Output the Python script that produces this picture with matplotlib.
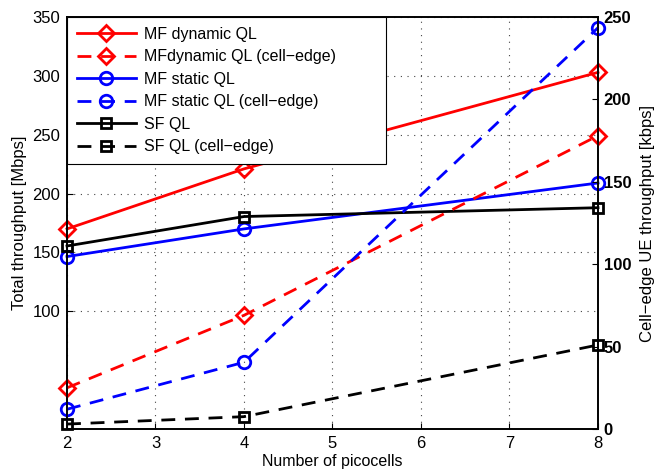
import matplotlib
matplotlib.use('Agg')
import matplotlib.pyplot as plt

plt.rcParams['font.family'] = ['Liberation Sans', 'DejaVu Sans']
plt.rcParams['font.size'] = 11.5

# data
picocells = [2, 4, 8]

# total throughput [Mbps] (left axis)
mf_dyn = [170, 221, 303]
mf_static = [146.5, 170, 209]
sf = [155.5, 180.5, 188]

# cell-edge UE throughput [kbps] (right axis)
mf_dyn_edge = [25, 69, 178]
mf_static_edge = [12, 40.5, 243.5]
sf_edge = [3, 7.5, 51]

left_ticks = [100, 150, 200, 250, 300, 350]
right_ticks = [0, 50, 100, 150, 200, 250]

fig = plt.figure(figsize=(6.64, 4.73), dpi=100)
ax = fig.add_axes([0.1009, 0.093, 0.7997, 0.871])
ax2 = ax.twinx()

lw = 2
mew = 2
style = dict(lw=lw, mfc='none', mew=mew, clip_on=False)
dash = (5, 3.5)

h1, = ax.plot(picocells, mf_dyn, '-', color='red', marker='D', ms=8,
              label='MF dynamic QL', **style)
h3, = ax.plot(picocells, mf_static, '-', color='blue', marker='o', ms=9,
              label='MF static QL', **style)
h5, = ax.plot(picocells, sf, '-', color='black', marker='s', ms=7,
              label='SF QL', **style)

h2, = ax2.plot(picocells, mf_dyn_edge, '--', color='red', marker='D', ms=8,
               label='MFdynamic QL (cell\u2212edge)', dashes=dash, **style)
h4, = ax2.plot(picocells, mf_static_edge, '--', color='blue', marker='o', ms=9,
               label='MF static QL (cell\u2212edge)', dashes=dash, **style)
h6, = ax2.plot(picocells, sf_edge, '--', color='black', marker='s', ms=7,
               label='SF QL (cell\u2212edge)', dashes=dash, **style)

ax.set_xlim(2, 8)
ax.set_ylim(0, 350)
ax2.set_ylim(0, 250)
ax.set_xticks(range(2, 9))
ax.set_yticks(left_ticks)
ax2.set_yticks(right_ticks)

ax.grid(True, linestyle=(0, (1, 5)), color='#444444', lw=0.8)
ax.tick_params(direction='in', length=4, labelsize=12, pad=5, right=False)
ax2.tick_params(direction='in', length=4, labelsize=12, pad=4)
for t in ax2.get_yticklabels():
    t.set_fontweight('bold')

for a in (ax, ax2):
    for s in a.spines.values():
        s.set_linewidth(1.2)

ax.set_xlabel('Number of picocells', fontsize=11.5, labelpad=2)
ax.set_ylabel('Total throughput [Mbps]', fontsize=12, labelpad=4)
ax2.set_ylabel('Cell\u2212edge UE throughput [kbps]', fontsize=12, labelpad=6)

# legend box spans from the axes corner to the right of the text (MATLAB style)
leg_w = 0.6008
leg_h = 0.347
leg = ax2.legend(handles=[h1, h2, h3, h4, h5, h6], loc='upper left',
                 bbox_to_anchor=(0, 1 - leg_h, leg_w, leg_h), mode='expand',
                 borderaxespad=0, fancybox=False, edgecolor='black',
                 framealpha=1, handlelength=3.7, handletextpad=0.5,
                 labelspacing=0.47, borderpad=0.6, fontsize=11.5)
leg.get_frame().set_linewidth(0.8)
leg.set_zorder(10)

fig.savefig('out.png', dpi=100)
